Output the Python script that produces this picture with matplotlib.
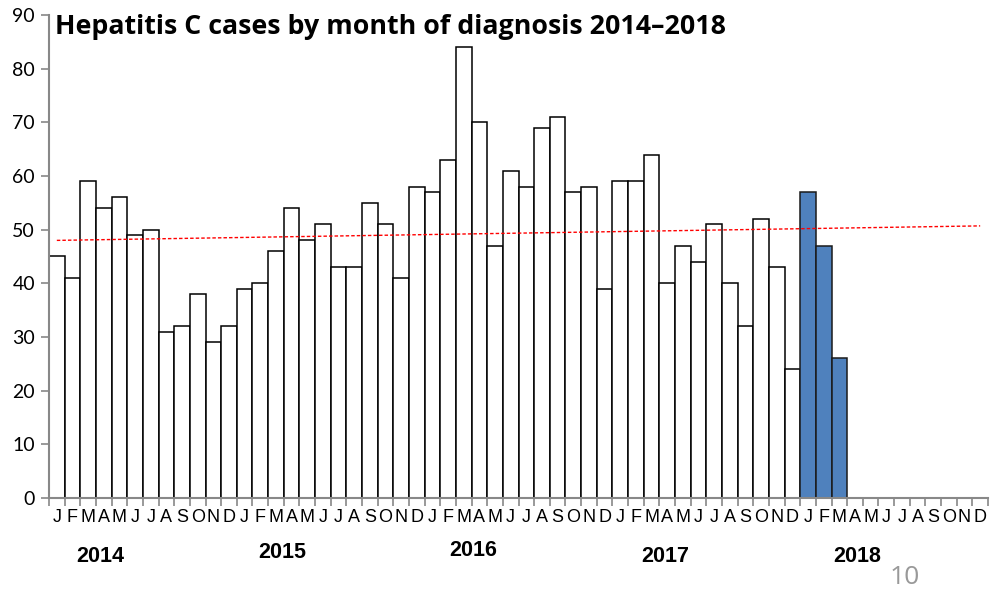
import matplotlib
matplotlib.use("Agg")
import matplotlib.pyplot as plt
import numpy as np

years = ["2014", "2015", "2016", "2017", "2018"]
month_letters = ["J", "F", "M", "A", "M", "J", "J", "A", "S", "O", "N", "D"]
cases_2014 = [45, 41, 59, 54, 56, 49, 50, 31, 32, 38, 29, 32]
cases_2015 = [39, 40, 46, 54, 48, 51, 43, 43, 55, 51, 41, 58]
cases_2016 = [57, 63, 84, 70, 47, 61, 58, 69, 71, 57, 58, 39]
cases_2017 = [59, 59, 64, 40, 47, 44, 51, 40, 32, 52, 43, 24]
cases_2018 = [57, 47, 26]
trend_start = 48.0
trend_end = 50.7

fig = plt.figure(figsize=(10, 5.92), dpi=100)
ax = fig.add_axes([0.049, 0.1588, 0.939, 0.8159])

old = cases_2014 + cases_2015 + cases_2016 + cases_2017
n_slots = 12 * len(years)
x_old = np.arange(len(old))
x_new = np.arange(len(old), len(old) + len(cases_2018))
ax.bar(x_old, old, width=1.0, align="edge", color="white", edgecolor="black", linewidth=1.1)
ax.bar(x_new, cases_2018, width=1.0, align="edge", color="#4F81BD", edgecolor="#1a1a1a", linewidth=1.1)

ax.plot([0.5, n_slots - 0.5], [trend_start, trend_end], color="red", linestyle=(0, (2.5, 1.5)), linewidth=1.0)

ax.set_xlim(0, n_slots)
ax.set_ylim(0, 90)
ax.set_yticks(np.arange(0, 91, 10))
for lab in ax.get_yticklabels():
    lab.set_fontfamily("Lato")
    lab.set_fontsize(14)
ax.tick_params(axis="y", direction="out", length=6, width=1.2, color="#888888", pad=4)

ax.set_xticks(np.arange(0, n_slots + 1))
ax.set_xticklabels([])
ax.tick_params(axis="x", direction="out", length=6, width=1.2, color="#888888")
ax.set_xticks(np.arange(n_slots) + 0.5, minor=True)
ax.set_xticklabels(month_letters * len(years), minor=True, fontfamily="Liberation Sans", fontsize=13)
ax.tick_params(axis="x", which="minor", length=0, pad=8)

for s in ["top", "right"]:
    ax.spines[s].set_visible(False)
for s in ["left", "bottom"]:
    ax.spines[s].set_color("#888888")
    ax.spines[s].set_linewidth(1.5)

year_pos = [(100, 557), (282, 552), (473, 550), (665, 557), (857, 557)]
for yr, (px, py) in zip(years, year_pos):
    fig.text(px / 1000, 1 - py / 592, yr, ha="center", va="center",
             fontfamily="Liberation Sans", fontweight="bold", fontsize=15.5)

fig.text(55 / 1000, 1 - 27 / 592, "Hepatitis C cases by month of diagnosis 2014\u20132018",
         ha="left", va="center", fontfamily="Open Sans", fontweight="bold", fontsize=19.3)
fig.text(905 / 1000, 1 - 577 / 592, "10", ha="center", va="center",
         fontfamily="Open Sans", fontsize=19, color="#999999")

fig.savefig("out.png", dpi=100)
